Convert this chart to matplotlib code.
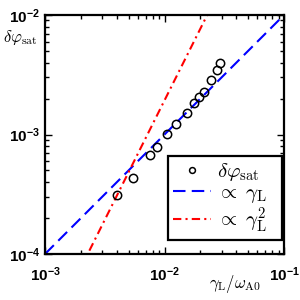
import numpy as np
import matplotlib
matplotlib.use("Agg")
import matplotlib.pyplot as plt

# tick labels in bold Arial-like font via mathtext "custom" set
plt.rcParams.update({
    "mathtext.fontset": "custom",
    "mathtext.rm": "Liberation Sans:bold",
    "mathtext.it": "Liberation Sans:bold",
    "mathtext.bf": "Liberation Sans:bold",
    "mathtext.sf": "Liberation Sans:bold",
    "font.family": "Liberation Sans",
    "font.weight": "bold",
})

# saturation amplitude vs linear growth rate
gamma_L = np.array([3.98e-3, 5.42e-3, 7.56e-3, 8.61e-3, 1.055e-2, 1.241e-2, 1.534e-2,
                    1.776e-2, 1.955e-2, 2.141e-2, 2.436e-2, 2.734e-2, 2.913e-2])
dphi_sat = np.array([3.12e-4, 4.30e-4, 6.74e-4, 7.91e-4, 1.01e-3, 1.224e-3, 1.522e-3,
                     1.845e-3, 2.048e-3, 2.281e-3, 2.858e-3, 3.465e-3, 3.96e-3])

# reference scalings
coef_lin = 0.1     # dphi ~ coef_lin * gamma
coef_quad = 19.3   # dphi ~ coef_quad * gamma^2
x_range = [1e-3, 1e-1]

xticks = [1e-3, 1e-2, 1e-1]
xtick_labels = [r"$10^{-3}$", r"$10^{-2}$", r"$10^{-1}$"]
yticks = [1e-4, 1e-3, 1e-2]
ytick_labels = [r"$10^{-4}$", r"$10^{-3}$", r"$10^{-2}$"]

fig = plt.figure(figsize=(3, 3), dpi=100)
ax = fig.add_axes([0.15, 0.1533, 0.7967, 0.7967])

xx = np.logspace(np.log10(x_range[0]), np.log10(x_range[1]), 200)
ax.plot(gamma_L, dphi_sat, "o", mfc="none", mec="k", ms=6, mew=1.1,
        label=r"$\delta\varphi_{\rm sat}$", zorder=3)
ax.plot(xx, coef_lin * xx, color=(0, 0, 1), lw=1.5, dashes=(6, 3),
        label=r"$\propto\;\gamma_{\rm L}$")
ax.plot(xx, coef_quad * xx**2, color=(1, 0, 0), lw=1.5, dashes=(4, 2, 1, 2),
        label=r"$\propto\;\gamma_{\rm L}^2$")

ax.set_xscale("log")
ax.set_yscale("log")
ax.set_xlim(1e-3, 1e-1)
ax.set_ylim(1e-4, 1e-2)
ax.set_xticks(xticks, xtick_labels)
ax.set_yticks(yticks, ytick_labels)
ax.tick_params(which="both", direction="in", top=True, right=True, labelsize=11)
ax.tick_params(which="major", length=5, width=1)
ax.tick_params(which="minor", length=3, width=1)
ax.tick_params(axis="x", pad=8)
for s in ax.spines.values():
    s.set_linewidth(1.6)

ax.set_xlabel(r"$\gamma_{\rm L}/\omega_{\rm A0}$", fontsize=12, math_fontfamily="cm")
ax.xaxis.set_label_coords(0.795, -0.1255)
ax.xaxis.label.set_va("center")
ax.set_ylabel(r"$\delta\varphi_{\rm sat}$", fontsize=12, rotation=0, math_fontfamily="cm")
ax.yaxis.set_label_coords(-0.105, 0.904)
ax.yaxis.label.set_va("center")
ax.yaxis.label.set_ha("center")

# legend box stretched to the reference width
leg = ax.legend(loc="lower left", bbox_to_anchor=(0.5146, 0.058, 0.477, 0.0),
                mode="expand", borderaxespad=0,
                fontsize=15, fancybox=False, framealpha=1, edgecolor="k",
                handlelength=1.8, markerscale=0.7, borderpad=0.25,
                labelspacing=0.0, handletextpad=0.3)
leg.get_frame().set_linewidth(1.6)
for t in leg.get_texts():
    t.set_math_fontfamily("cm")

fig.savefig("out.png", dpi=100)
